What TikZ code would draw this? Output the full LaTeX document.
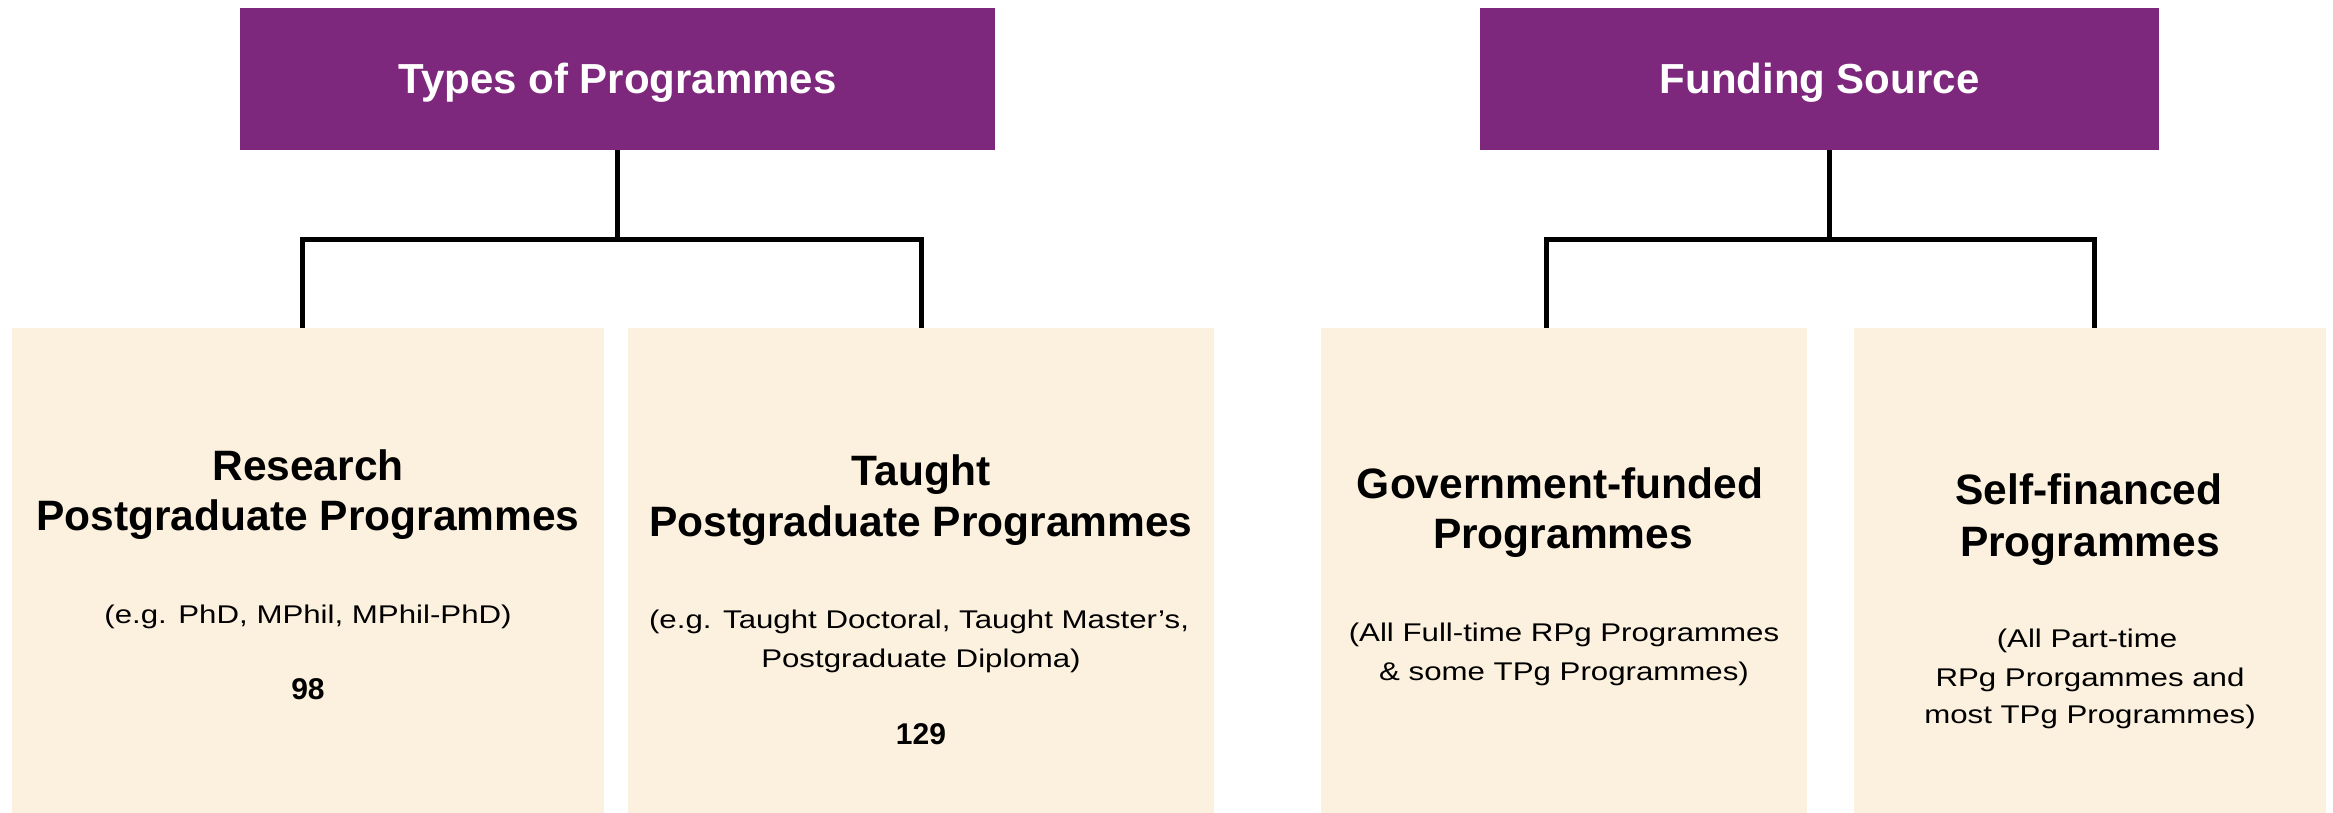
\documentclass[tikz,border=0pt]{standalone}
\usepackage{fontspec}
\setmainfont{Liberation Sans}
\newfontfamily\smallf[FakeStretch=1.22]{Liberation Sans}
\usetikzlibrary{calc}
\definecolor{hdr}{RGB}{125,39,125}
\definecolor{cream}{RGB}{252,240,222}
\begin{document}
\begin{tikzpicture}[x=0.5pt,y=-0.5pt,
  hdrbox/.style={fill=hdr, text=white, font=\fontsize{21}{25}\selectfont\bfseries, inner sep=0pt, text height=15pt, text depth=0pt},
  card/.style={fill=cream, inner sep=0pt, minimum height=242.5pt},
  bigt/.style={anchor=base, inner sep=0pt, font=\fontsize{21.25}{25}\selectfont\bfseries},
  smallt/.style={anchor=base, inner sep=0pt, font=\fontsize{12.8}{15}\smallf},
  numt/.style={anchor=base, inner sep=0pt, font=\fontsize{15}{18}\selectfont\bfseries},
  conn/.style={line width=2.5pt, black, line join=miter}]
\useasboundingbox (0,0) rectangle (2333,813);

% header boxes
\node[hdrbox, minimum width=377.5pt, minimum height=71pt] (t1) at (617.5,79) {Types of Programmes};
\node[hdrbox, minimum width=339.5pt, minimum height=71pt] (t2) at (1819.5,79) {Funding Source};

% cards
\node[card, minimum width=296pt] (b1) at (308,570.5) {};
\node[card, minimum width=293pt] (b2) at (921,570.5) {};
\node[card, minimum width=243pt] (b3) at (1564,570.5) {};
\node[card, minimum width=236pt] (b4) at (2090,570.5) {};

% connectors, tree 1
\coordinate (j1) at (617.5,239);
\coordinate (d1) at ($(b1.north)+(-6,0)$);
\draw[conn] (t1.south) -- (j1);
\draw[conn] (d1) |- (j1 -| b2.north) -- (b2.north);

% connectors, tree 2
\coordinate (j2) at (1829,239);
\coordinate (s2) at ($(t2.south)+(9.5,0)$);
\coordinate (d3) at ($(b3.north)+(-18,0)$);
\coordinate (d4) at ($(b4.north)+(4,0)$);
\draw[conn] (s2) -- (j2);
\draw[conn] (d3) |- (j2 -| d4) -- (d4);

% card 1 text
\node[bigt] (r1) at (308,480) {Research};
\node[bigt] (r2) at (308,530) {Postgraduate Programmes};
\node[smallt] (r3) at (308,623) {(e.g. PhD, MPhil, MPhil-PhD)};
\node[numt] (r4) at (308,699) {98};

% card 2 text
\node[bigt] (p1) at (921,485) {Taught};
\node[bigt] (p2) at (921,536) {Postgraduate Programmes};
\node[smallt] (p3) at (919,628) {(e.g. Taught Doctoral, Taught Master’s,};
\node[smallt] (p4) at (921,667) {Postgraduate Diploma)};
\node[numt] (p5) at (921,744) {129};

% card 3 text
\node[bigt] (g1) at (1560,498) {Government-funded};
\node[bigt] (g2) at (1563,548) {Programmes};
\node[smallt] (g3) at (1564,641) {(All Full-time RPg Programmes};
\node[smallt] (g4) at (1564,680) {\& some TPg Programmes)};

% card 4 text
\node[bigt] (f1) at (2089,504) {Self-financed};
\node[bigt] (f2) at (2090,556) {Programmes};
\node[smallt] (f3) at (2087,647) {(All Part-time};
\node[smallt] (f4) at (2090,686) {RPg Prorgammes and};
\node[smallt] (f5) at (2090,723) {most TPg Programmes)};
\end{tikzpicture}
\end{document}
